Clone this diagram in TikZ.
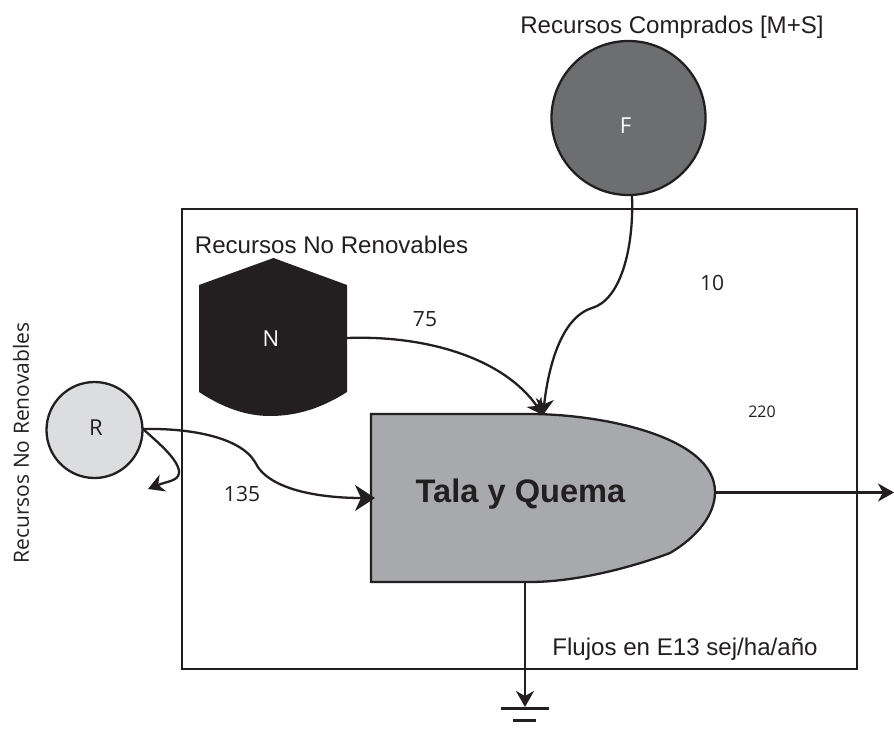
\documentclass[tikz,border=0pt]{standalone}
\usepackage{fontspec}
\setmainfont{Liberation Sans}
\newfontfamily\myr{Open Sans}
\usetikzlibrary{arrows.meta}
\definecolor{ink}{HTML}{231F20}
\definecolor{fgray}{HTML}{6D6E70}
\definecolor{rgray}{HTML}{DCDDDE}
\definecolor{mgray}{HTML}{A7A9AC}
\tikzset{
  x=1pt,y=-1pt,
  line/.style={draw=ink,line width=2.3pt},
  flow/.style={line,-{Stealth[length=16pt,width=18pt,inset=5pt]}},
  bigflow/.style={line,-{Stealth[length=20pt,width=26pt,inset=6pt]}},
  source/.style={circle,draw=ink,line width=2.3pt,inner sep=0pt},
  arial/.style={text=ink,font=\fontsize{24.1}{28}\selectfont,inner sep=0pt},
  myriad/.style={text=ink,font=\myr\fontsize{21}{25}\selectfont,inner sep=0pt},
  letter/.style={font=\myr\fontsize{22}{26}\selectfont,inner sep=0pt},
}
\begin{document}
\begin{tikzpicture}
\useasboundingbox (0,0) rectangle (894,733);
\draw[line] (182,209) rectangle (857,669);
% nodes
\node[source,fill=fgray,minimum size=154pt] (F) at (628.5,118) {};
\node[letter,text=white] (Fl) at (625.5,126) {F};
\node[source,fill=rgray,minimum size=96pt] (R) at (94.5,430) {};
\node[letter,text=ink] (Rl) at (96,428) {R};
\fill[ink] (273.5,258) -- (347,285) -- (347,392) .. controls (322,408) and (297,416) .. (270,416)
  .. controls (245,416) and (222,407) .. (199,392) -- (199,285) -- cycle;
\node[letter,text=white] (Nl) at (271,339) {N};
\coordinate (Nout) at (347,338);
\draw[line,fill=mgray] (371,414) -- (530,414)
  .. controls (600,414) and (715,436) .. (715,492)
  .. controls (715,515) and (697,537) .. (670,553)
  .. controls (630,568) and (575,582) .. (530,582)
  -- (371,582) -- cycle;
\coordinate (Mtop) at (543,415);
\coordinate (Mleft) at (375,498);
\coordinate (Mright) at (715,492.5);
\coordinate (Mbot) at (525,582);
\coordinate (Rout) at (143,429);
\coordinate (Fout) at (632,196);
\coordinate (Rback) at (148,489);
\coordinate (Exit) at (894,492.5);
\coordinate (Sink) at (525,707);
\coordinate (G1a) at (501,708.5);\coordinate (G1b) at (549,708.5);
\coordinate (G2a) at (513,720.5);\coordinate (G2b) at (536,720.5);
% connectors
\draw[bigflow] (Rout) .. controls (190,428) and (240,437) .. (255,462)
  .. controls (268,490) and (320,498) .. (Mleft);
\draw[flow] (Rout) .. controls (155,440) and (180,460) .. (179,473)
  .. controls (178,481) and (168,481) .. (Rback);
\draw[flow] (Nout) .. controls (430,335) and (505,360) .. (Mtop);
\draw[flow] (Fout) .. controls (634,250) and (620,300) .. (592,308)
  .. controls (560,318) and (548,370) .. (Mtop);
\draw[flow] (Mright) -- (Exit);
\draw[flow] (Mbot) -- (Sink);
\draw[line] (G1a) -- (G1b);
\draw[line] (G2a) -- (G2b);
% labels
\node[arial] (t1) at (672,27) {Recursos Comprados [M+S]};
\node[arial] (t2) at (331.5,245) {Recursos No Renovables};
\node[arial] (t3) at (685,649) {Flujos en E13 sej/ha/año};
\node[text=ink,font=\bfseries\fontsize{32.6}{38}\selectfont,inner sep=0pt] (t4) at (520.5,494) {Tala y Quema};
\node[myriad,rotate=90] (t5) at (21,443) {Recursos No Renovables};
\node[myriad] (n1) at (712,283) {10};
\node[myriad] (n2) at (425,319) {75};
\node[myriad] (n3) at (242,494) {135};
\node[text=ink,font=\myr\fontsize{16}{20}\selectfont,inner sep=0pt] (n4) at (762,412) {220};
\end{tikzpicture}
\end{document}
